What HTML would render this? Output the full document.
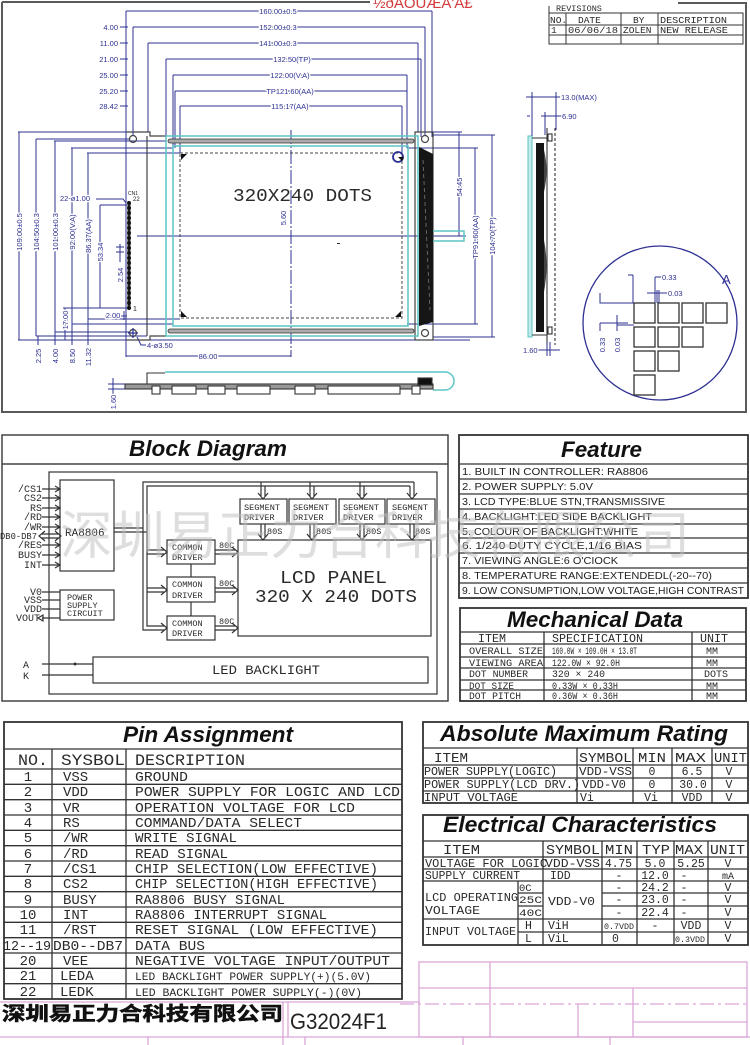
<!DOCTYPE html>
<html><head><meta charset="utf-8">
<style>
html,body{margin:0;padding:0;background:#fff;width:750px;height:1045px;overflow:hidden}
svg{display:block}
.s{font-family:"Liberation Sans","Noto Sans CJK SC",sans-serif}
.m{font-family:"Liberation Mono","DejaVu Sans Mono",monospace;fill:#2a2a2a}
.d{font-family:"Liberation Sans",sans-serif;font-size:7.5px;fill:#2d3092;stroke:#fff;stroke-width:2.5px;paint-order:stroke}
.t{font-family:"Liberation Sans",sans-serif;font-weight:bold;font-style:italic;font-size:22px;fill:#111}
</style></head><body>
<svg width="750" height="1045" viewBox="0 0 750 1045" xmlns="http://www.w3.org/2000/svg">

<!-- ===== TOP DRAWING FRAME ===== -->
<g stroke="#5a5a5a" stroke-width="2" fill="none">
<path d="M2,2H370M2,2V412H746V3H678"/>
</g>
<text class="s" x="373" y="8" font-size="15" fill="#d23c3c">½ðÀÓÚÆÄ'Ä£</text>

<!-- revisions -->
<g stroke="#333" stroke-width="1" fill="none">
<path d="M549,6V44H743V13H549M549,25H743M549,35H743M566,13V44M621,13V44M658,13V44"/>
</g>
<g class="m" font-size="9.5">
<text x="556" y="11" font-size="8.5">REVISIONS</text>
<text x="550" y="23">NO.</text><text x="578" y="23">DATE</text><text x="633" y="23">BY</text><text x="660" y="23" textLength="67" lengthAdjust="spacingAndGlyphs">DESCRIPTION</text>
<text x="551" y="33">1</text><text x="568" y="33" textLength="50" lengthAdjust="spacingAndGlyphs">06/06/18</text><text x="623" y="33">ZOLEN</text><text x="660" y="33" textLength="68" lengthAdjust="spacingAndGlyphs">NEW RELEASE</text>
</g>

<!-- top dimension lines -->
<g stroke="#2d3092" stroke-width="1" fill="none">
<path d="M126,11H432M133,27H425M148,43H418M166,59H421M173,75H407M175,91H407M180,106H402"/>
<path d="M126,11V357M432,11V137M133,27V136M425,27V136M148,43V132M418,43V132M166,59V137M421,59V137M173,75V148M407,75V148M175,91V148M180,106V153M402,106V153"/>
<path d="M120,27H128M120,43H128M120,59H128M120,75H128M120,91H128M120,106H128"/>
<!-- left verticals -->
<path d="M19,132V340M36,139V336M55,141V332M72,148V324M88,153V319M100,205V308M65,308V340"/>
<path d="M18,132H150M415,132H462M433,135H495M36,139H130M54,141H166M71,148H173M407,148H478M87,153H180M100,205H127"/>
<path d="M88,319H180M72,324H173M407,324H478M55,332H130M36,336H147M433,337H495M18,340H470M63,308H128"/>
<path d="M38,336V345M55,332V345M72,324V345M88,319V345"/>
<!-- center lines -->
<path d="M291,130V357" stroke-dasharray="14,2,2,2"/>
<path d="M137,236H466"/>
<path d="M126,356H291"/>
<!-- right dims -->
<path d="M459,132V236M475,148V324M492,135V337"/>
<!-- small dims near connector -->
<path d="M120,244V262M116,247H124M116,252H124M105,316H127M124,311V320M137,337L141,345H146"/>
<path d="M96,199H123L126,203"/>
</g>
<g class="d">
<text x="278" y="14" text-anchor="middle">160.00±0.5</text>
<text x="278" y="30" text-anchor="middle">152.00±0.3</text>
<text x="278" y="46" text-anchor="middle">141.00±0.3</text>
<text x="292" y="62" text-anchor="middle">132.50(TP)</text>
<text x="290" y="78" text-anchor="middle">122.00(V.A)</text>
<text x="290" y="94" text-anchor="middle">TP121.60(AA)</text>
<text x="290" y="109" text-anchor="middle">115.17(AA)</text>
<text x="118" y="30" text-anchor="end">4.00</text>
<text x="118" y="46" text-anchor="end">11.00</text>
<text x="118" y="62" text-anchor="end">21.00</text>
<text x="118" y="78" text-anchor="end">25.00</text>
<text x="118" y="94" text-anchor="end">25.20</text>
<text x="118" y="109" text-anchor="end">28.42</text>
<text transform="translate(22,232) rotate(-90)" text-anchor="middle">109.00±0.5</text>
<text transform="translate(39,232) rotate(-90)" text-anchor="middle">104.50±0.3</text>
<text transform="translate(58,232) rotate(-90)" text-anchor="middle">101.00±0.3</text>
<text transform="translate(75,232) rotate(-90)" text-anchor="middle">92.00(V.A)</text>
<text transform="translate(91,236) rotate(-90)" text-anchor="middle">86.37(AA)</text>
<text transform="translate(103,252) rotate(-90)" text-anchor="middle">53.34</text>
<text transform="translate(123,275) rotate(-90)" text-anchor="middle">2.54</text>
<text transform="translate(68,320) rotate(-90)" text-anchor="middle">17.00</text>
<text transform="translate(41,356) rotate(-90)" text-anchor="middle">2.25</text>
<text transform="translate(58,356) rotate(-90)" text-anchor="middle">4.00</text>
<text transform="translate(75,356) rotate(-90)" text-anchor="middle">8.50</text>
<text transform="translate(91,357) rotate(-90)" text-anchor="middle">11.32</text>
<text transform="translate(286,218) rotate(-90)" text-anchor="middle">5.60</text>
<text transform="translate(462,187) rotate(-90)" text-anchor="middle">54.45</text>
<text transform="translate(478,237) rotate(-90)" text-anchor="middle">TP91.60(AA)</text>
<text transform="translate(495,236) rotate(-90)" text-anchor="middle">104.70(TP)</text>
<text x="208" y="359" text-anchor="middle">86.00</text>
<text x="113" y="318" text-anchor="middle">2.00</text>
<text x="147" y="348">4-ø3.50</text>
<text x="90" y="201" text-anchor="end">22-ø1.00</text>
</g>
<text class="s" x="128" y="195" font-size="5" fill="#222">CN1</text>
<text class="s" x="133" y="201" font-size="6" fill="#222">22</text>
<text class="s" x="133" y="311" font-size="7" fill="#222">1</text>

<!-- module outline -->
<g stroke="#444" stroke-width="1.2" fill="none">
<path d="M126,132H150V136H166M147,136V336M126,340H150V336H166"/>
<path d="M415,132H433V340H415Z"/>
<circle cx="133" cy="139" r="3.5"/><circle cx="133" cy="333" r="3.5"/>
<circle cx="425" cy="139" r="3.5"/><circle cx="425" cy="333" r="3.5"/>
<path d="M128,333H138M133,328V338" stroke="#2d3092"/>
</g>
<!-- glass cyan -->
<g stroke="#5cc4c4" stroke-width="1.5" fill="none">
<rect x="166" y="136" width="252" height="200"/>
<rect x="173" y="146" width="235" height="180"/>
<path d="M420,226H430V231H464V241H430V246H420"/>
<path d="M420,148V324"/>
</g>
<g stroke="#333" stroke-width="0.8" fill="#aaa">
<rect x="168" y="139" width="246" height="4" rx="2"/>
<rect x="168" y="329" width="246" height="4" rx="2"/>
</g>
<rect x="180" y="153" width="222" height="165" fill="none" stroke="#444" stroke-width="1" stroke-dasharray="3,2"/>
<g fill="#111">
<path d="M181,154H187L181,160Z"/>
<path d="M181,317V311L187,317Z"/>
<path d="M401,317V311L395,317Z"/>
</g>
<circle cx="398" cy="157" r="5" fill="none" stroke="#2d3092" stroke-width="1.8"/>
<path d="M398,157L402,161L404,157Z" fill="#111"/>
<polygon points="419,147 433,154 433,322 419,326" fill="#161616"/>
<path d="M423,160L430,310" stroke="#777" stroke-width="0.8" stroke-dasharray="4,3"/>
<text class="m" x="233" y="201" font-size="18" textLength="139" lengthAdjust="spacingAndGlyphs">320X240 DOTS</text>
<rect x="337" y="243" width="3" height="1" fill="#333"/>
<!-- connector pins -->
<line x1="129" y1="203" x2="129" y2="308" stroke="#2a2a2a" stroke-width="3"/>
<g fill="#111">
<circle cx="129" cy="203" r="2"/><circle cx="129" cy="208" r="2"/><circle cx="129" cy="213" r="2"/><circle cx="129" cy="218" r="2"/><circle cx="129" cy="223" r="2"/><circle cx="129" cy="228" r="2"/><circle cx="129" cy="233" r="2"/><circle cx="129" cy="238" r="2"/><circle cx="129" cy="243" r="2"/><circle cx="129" cy="248" r="2"/><circle cx="129" cy="253" r="2"/><circle cx="129" cy="258" r="2"/><circle cx="129" cy="263" r="2"/><circle cx="129" cy="268" r="2"/><circle cx="129" cy="273" r="2"/><circle cx="129" cy="278" r="2"/><circle cx="129" cy="283" r="2"/><circle cx="129" cy="288" r="2"/><circle cx="129" cy="293" r="2"/><circle cx="129" cy="298" r="2"/><circle cx="129" cy="303" r="2"/><circle cx="129" cy="308" r="2"/>
</g>

<!-- bottom side view -->
<path d="M165,372H445A9,9 0 0 1 445,390H433" fill="none" stroke="#5cc4c4" stroke-width="1.5"/>
<g stroke="#333" stroke-width="1.1">
<path d="M147,385V373H165" fill="none"/>
<rect x="125" y="384" width="308" height="5" fill="#999"/>
<g fill="#fff">
<rect x="152" y="386" width="8" height="8"/><rect x="172" y="386" width="24" height="8"/><rect x="208" y="386" width="17" height="8"/><rect x="237" y="386" width="33" height="8"/><rect x="295" y="386" width="20" height="8"/><rect x="328" y="386" width="72" height="8"/><rect x="412" y="386" width="8" height="8"/>
</g>
<rect x="418" y="378" width="14" height="7" fill="#111"/>
</g>
<g stroke="#2d3092" stroke-width="1"><path d="M113,378V394M108,384H125M108,389H125"/></g>
<text class="d" transform="translate(116,402) rotate(-90)" text-anchor="middle">1.60</text>

<!-- right side view -->
<rect x="528" y="136" width="4" height="201" fill="#c5ecec" stroke="#5cc4c4" stroke-width="1"/>
<g stroke="#333" stroke-width="1.1" fill="none">
<path d="M532,138H547M532,335H547"/>
<path d="M547,128V345"/>
<rect x="548" y="134" width="4" height="7"/>
<rect x="548" y="327" width="4" height="7"/>
<path d="M555,128V345" stroke-dasharray="3,2"/>
</g>
<rect x="536" y="143" width="8" height="189" fill="#151515"/>
<path d="M544,150Q549,170 544,192ZM544,240Q549,265 544,292Z" fill="#444"/>
<g stroke="#2d3092" stroke-width="1" fill="none">
<path d="M532,92V136M556,92V130M545,112V135M526,97H560M541,116H562M527,97H530M527,116H530M537,350H560M547,342V356M550,342V356"/>
</g>
<text class="d" x="561" y="100">13.0(MAX)</text>
<text class="d" x="562" y="119">6.90</text>
<text class="d" x="523" y="353">1.60</text>

<!-- detail A -->
<circle cx="660" cy="323" r="77" fill="none" stroke="#2d3092" stroke-width="1.3"/>
<text class="s" x="722" y="284" font-size="13" fill="#2d3092">A</text>
<g stroke="#333" stroke-width="1.3" fill="none">
<rect x="634" y="303" width="21" height="20"/><rect x="658" y="303" width="21" height="20"/><rect x="682" y="303" width="21" height="20"/><rect x="706" y="303" width="21" height="20"/>
<rect x="634" y="327" width="21" height="20"/><rect x="658" y="327" width="21" height="20"/><rect x="682" y="327" width="21" height="20"/>
<rect x="634" y="351" width="21" height="20"/><rect x="658" y="351" width="21" height="20"/>
<rect x="634" y="375" width="21" height="20"/>
</g>
<g stroke="#2d3092" stroke-width="1" fill="none">
<path d="M633,275V303M628,275H633M655,277V303M655,277H662M657,290V303M659,290V303M647,293H668M600,293V303H634M600,323V331M600,323H628M617,315V331M617,325H634"/>
</g>
<text class="d" x="662" y="280">0.33</text>
<text class="d" x="668" y="296">0.03</text>
<text class="d" transform="translate(605,345) rotate(-90)" text-anchor="middle">0.33</text>
<text class="d" transform="translate(620,345) rotate(-90)" text-anchor="middle">0.03</text>

<!-- ===== BLOCK DIAGRAM ===== -->
<g stroke="#444" stroke-width="1.5" fill="none">
<rect x="2" y="435" width="446" height="266"/>
<path d="M2,464H448"/>
</g>
<text class="t" x="129" y="456" textLength="158" lengthAdjust="spacingAndGlyphs">Block Diagram</text>
<g stroke="#333" stroke-width="1.2" fill="none">
<rect x="49" y="472" width="388" height="222"/>
<rect x="60" y="480" width="54" height="91"/>
<rect x="60" y="590" width="54" height="30"/>
<rect x="167" y="540" width="48" height="24"/>
<rect x="167" y="577" width="48" height="25"/>
<rect x="167" y="616" width="48" height="24"/>
<rect x="240" y="499" width="47" height="25"/>
<rect x="289" y="499" width="47" height="25"/>
<rect x="339" y="499" width="46" height="25"/>
<rect x="387" y="499" width="48" height="25"/>
<rect x="238" y="540" width="193" height="96"/>
<rect x="93" y="657" width="335" height="26"/>
<!-- pin arrows -->
<path d="M42,489H60M55,486L60,489L55,492M42,498H60M55,495L60,498L55,501M42,508H60M55,505L60,508L55,511M42,517H60M55,514L60,517L55,520M42,527H60M55,524L60,527L55,530M42,545H60M55,542L60,545L55,548M42,555H60M55,552L60,555L55,558M42,565H60M55,562L60,565L55,568"/>
<path d="M42,534H58M42,538H58M45,531L39,536L45,541M55,531L61,536L55,541"/>
<path d="M42,592H60M42,600H60M42,609H60M42,618H60M38,618L43,615V621Z"/>
<!-- bus -->
<path d="M114,528H143V482H414M114,532H147V486H410M143,528V630H164M147,532V626H164"/>
<path d="M147,550H164M147,554H164M161,547L167,552L161,557M147,588H164M147,592H164M161,585L167,590L161,595M161,623L167,628L161,633"/>
<path d="M261,482V496M265,486V496M258,493L263,499L268,493M310,482V496M314,486V496M307,493L312,499L317,493M360,482V496M364,486V496M357,493L362,499L367,493M410,486V496M414,482V496M407,493L412,499L417,493"/>
<path d="M261,524V537M265,524V537M258,534L263,540L268,534M310,524V537M314,524V537M307,534L312,540L317,534M360,524V537M364,524V537M357,534L362,540L367,534M410,524V537M414,524V537M407,534L412,540L417,534"/>
<path d="M215,550H235M215,554H235M232,547L238,552L232,557M215,588H235M215,592H235M232,585L238,590L232,595M215,626H235M215,630H235M232,623L238,628L232,633"/>
<path d="M191,564V577M191,602V616"/>
<path d="M42,664H93M42,675H93"/>
</g>
<circle cx="75" cy="664" r="1.5" fill="#333"/>
<g class="m" font-size="10">
<text x="42" y="492" text-anchor="end">/CS1</text>
<text x="42" y="501" text-anchor="end">CS2</text>
<text x="42" y="511" text-anchor="end">RS</text>
<text x="42" y="520" text-anchor="end">/RD</text>
<text x="42" y="530" text-anchor="end">/WR</text>
<text x="0" y="539" textLength="37" lengthAdjust="spacingAndGlyphs" font-size="9.5">DB0-DB7</text>
<text x="42" y="548" text-anchor="end">/RES</text>
<text x="42" y="558" text-anchor="end">BUSY</text>
<text x="42" y="568" text-anchor="end">INT</text>
<text x="42" y="595" text-anchor="end">V0</text>
<text x="42" y="603" text-anchor="end">VSS</text>
<text x="42" y="612" text-anchor="end">VDD</text>
<text x="40" y="621" text-anchor="end">VOUT</text>
<text x="23" y="668">A</text>
<text x="23" y="679">K</text>
<text x="65" y="536" font-size="11">RA8806</text>
</g>
<g class="m" font-size="8.5">
<text x="67" y="600">POWER</text><text x="67" y="608">SUPPLY</text><text x="67" y="616">CIRCUIT</text>
<text x="172" y="550">COMMON</text><text x="172" y="560">DRIVER</text>
<text x="172" y="587">COMMON</text><text x="172" y="598">DRIVER</text>
<text x="172" y="626">COMMON</text><text x="172" y="636">DRIVER</text>
<text x="244" y="510" textLength="36" lengthAdjust="spacingAndGlyphs">SEGMENT</text><text x="244" y="520">DRIVER</text>
<text x="293" y="510" textLength="36" lengthAdjust="spacingAndGlyphs">SEGMENT</text><text x="293" y="520">DRIVER</text>
<text x="343" y="510" textLength="36" lengthAdjust="spacingAndGlyphs">SEGMENT</text><text x="343" y="520">DRIVER</text>
<text x="392" y="510" textLength="36" lengthAdjust="spacingAndGlyphs">SEGMENT</text><text x="392" y="520">DRIVER</text>
<text x="267" y="534">80S</text><text x="316" y="534">80S</text><text x="366" y="534">80S</text><text x="415" y="534">80S</text>
<text x="219" y="548">80C</text><text x="219" y="586">80C</text><text x="219" y="624">80C</text>
</g>
<text class="m" x="280" y="583" font-size="18" textLength="107" lengthAdjust="spacingAndGlyphs">LCD PANEL</text>
<text class="m" x="255" y="602" font-size="18" textLength="162" lengthAdjust="spacingAndGlyphs">320 X 240 DOTS</text>
<text class="m" x="212" y="674" font-size="13" textLength="108" lengthAdjust="spacingAndGlyphs">LED BACKLIGHT</text>

<!-- ===== FEATURE ===== -->
<g stroke="#333" stroke-width="1.3" fill="none">
<rect x="459" y="435" width="289" height="163" stroke-width="1.8"/>
<path d="M459,464H748M459,479H748M459,494H748M459,509H748M459,524H748M459,538H748M459,553H748M459,568H748M459,583H748"/>
</g>
<text class="t" x="561" y="457" textLength="81" lengthAdjust="spacingAndGlyphs">Feature</text>
<g class="s" font-size="10.5" fill="#222">
<text x="462" y="475" textLength="186" lengthAdjust="spacingAndGlyphs">1. BUILT IN CONTROLLER: RA8806</text>
<text x="462" y="490" textLength="131" lengthAdjust="spacingAndGlyphs">2. POWER SUPPLY: 5.0V</text>
<text x="462" y="505" textLength="203" lengthAdjust="spacingAndGlyphs">3. LCD TYPE:BLUE STN,TRANSMISSIVE</text>
<text x="462" y="520" textLength="190" lengthAdjust="spacingAndGlyphs">4. BACKLIGHT:LED SIDE BACKLIGHT</text>
<text x="462" y="535" textLength="176" lengthAdjust="spacingAndGlyphs">5. COLOUR OF BACKLIGHT:WHITE</text>
<text x="462" y="549" textLength="180" lengthAdjust="spacingAndGlyphs">6. 1/240 DUTY CYCLE,1/16 BIAS</text>
<text x="462" y="564" textLength="156" lengthAdjust="spacingAndGlyphs">7. VIEWING ANGLE:6 O'CIOCK</text>
<text x="462" y="579" textLength="250" lengthAdjust="spacingAndGlyphs">8. TEMPERATURE RANGE:EXTENDEDL(-20--70)</text>
<text x="462" y="594" textLength="282" lengthAdjust="spacingAndGlyphs">9. LOW CONSUMPTION,LOW VOLTAGE,HIGH CONTRAST</text>
</g>

<!-- ===== MECHANICAL ===== -->
<g stroke="#333" stroke-width="1.3" fill="none">
<rect x="460" y="608" width="286" height="93" stroke-width="1.8"/>
<path d="M460,632H746M460,644H746M460,657H746M460,668H746M460,680H746M460,690H746M544,632V701M692,632V701"/>
</g>
<text class="t" x="507" y="627" textLength="176" lengthAdjust="spacingAndGlyphs">Mechanical Data</text>
<g class="m" font-size="12">
<text x="478" y="642" textLength="28" lengthAdjust="spacingAndGlyphs">ITEM</text>
<text x="552" y="642" textLength="91" lengthAdjust="spacingAndGlyphs">SPECIFICATION</text>
<text x="700" y="642" textLength="28" lengthAdjust="spacingAndGlyphs">UNIT</text>
</g>
<g class="m" font-size="10">
<text x="469" y="654" textLength="74" lengthAdjust="spacingAndGlyphs">OVERALL SIZE</text>
<text x="469" y="666" textLength="74" lengthAdjust="spacingAndGlyphs">VIEWING AREA</text>
<text x="469" y="677" textLength="59" lengthAdjust="spacingAndGlyphs">DOT NUMBER</text>
<text x="469" y="689" textLength="45" lengthAdjust="spacingAndGlyphs">DOT SIZE</text>
<text x="469" y="699" textLength="52" lengthAdjust="spacingAndGlyphs">DOT PITCH</text>
<text x="552" y="654" textLength="85" lengthAdjust="spacingAndGlyphs">160.0W × 109.0H × 13.0T</text>
<text x="552" y="666" textLength="68" lengthAdjust="spacingAndGlyphs">122.0W × 92.0H</text>
<text x="552" y="677" textLength="53" lengthAdjust="spacingAndGlyphs">320 × 240</text>
<text x="552" y="689" textLength="66" lengthAdjust="spacingAndGlyphs">0.33W × 0.33H</text>
<text x="552" y="699" textLength="66" lengthAdjust="spacingAndGlyphs">0.36W × 0.36H</text>
<text x="706" y="654">MM</text><text x="706" y="666">MM</text><text x="704" y="677" textLength="24" lengthAdjust="spacingAndGlyphs">DOTS</text><text x="706" y="689">MM</text><text x="706" y="699">MM</text>
</g>

<!-- ===== PIN ASSIGNMENT ===== -->
<g stroke="#333" stroke-width="1.3" fill="none">
<rect x="4" y="722" width="398" height="277" stroke-width="1.8"/>
<path d="M4,749H402M4,769H402M4,784.3H402M4,799.7H402M4,815H402M4,830.3H402M4,845.7H402M4,861H402M4,876.3H402M4,891.7H402M4,907H402M4,922.3H402M4,937.7H402M4,953H402M4,968.3H402M4,983.7H402M52,749V999M126,749V999"/>
</g>
<text class="t" x="123" y="742" textLength="170" lengthAdjust="spacingAndGlyphs">Pin Assignment</text>
<g class="m" font-size="16">
<text x="18" y="765" textLength="30" lengthAdjust="spacingAndGlyphs">NO.</text>
<text x="61" y="765" textLength="64" lengthAdjust="spacingAndGlyphs">SYSBOL</text>
<text x="135" y="765" textLength="110" lengthAdjust="spacingAndGlyphs">DESCRIPTION</text>
</g>
<g class="m" font-size="14">
<g text-anchor="middle">
<text x="28" y="781">1</text><text x="28" y="796">2</text><text x="28" y="812">3</text><text x="28" y="827">4</text><text x="28" y="842">5</text><text x="28" y="858">6</text><text x="28" y="873">7</text><text x="28" y="888">8</text><text x="28" y="904">9</text><text x="28" y="919">10</text><text x="28" y="934">11</text><text x="28" y="965">20</text><text x="28" y="980">21</text><text x="28" y="996">22</text>
</g>
<text x="3" y="950" textLength="48" lengthAdjust="spacingAndGlyphs">12--19</text>
<text x="63" y="781">VSS</text><text x="63" y="796">VDD</text><text x="63" y="812">VR</text><text x="63" y="827">RS</text><text x="63" y="842">/WR</text><text x="63" y="858">/RD</text><text x="63" y="873">/CS1</text><text x="63" y="888">CS2</text><text x="63" y="904">BUSY</text><text x="63" y="919">INT</text><text x="63" y="934">/RST</text>
<text x="53" y="950" textLength="70" lengthAdjust="spacingAndGlyphs">DB0--DB7</text>
<text x="63" y="965">VEE</text><text x="60" y="980">LEDA</text><text x="60" y="996">LEDK</text>
<text x="135" y="781" textLength="53" lengthAdjust="spacingAndGlyphs">GROUND</text>
<text x="135" y="796" textLength="265" lengthAdjust="spacingAndGlyphs">POWER SUPPLY FOR LOGIC AND LCD</text>
<text x="135" y="812" textLength="220" lengthAdjust="spacingAndGlyphs">OPERATION VOLTAGE FOR LCD</text>
<text x="135" y="827" textLength="167" lengthAdjust="spacingAndGlyphs">COMMAND/DATA SELECT</text>
<text x="135" y="842" textLength="102" lengthAdjust="spacingAndGlyphs">WRITE SIGNAL</text>
<text x="135" y="858" textLength="93" lengthAdjust="spacingAndGlyphs">READ SIGNAL</text>
<text x="135" y="873" textLength="243" lengthAdjust="spacingAndGlyphs">CHIP SELECTION(LOW EFFECTIVE)</text>
<text x="135" y="888" textLength="243" lengthAdjust="spacingAndGlyphs">CHIP SELECTION(HIGH EFFECTIVE)</text>
<text x="135" y="904" textLength="150" lengthAdjust="spacingAndGlyphs">RA8806 BUSY SIGNAL</text>
<text x="135" y="919" textLength="192" lengthAdjust="spacingAndGlyphs">RA8806 INTERRUPT SIGNAL</text>
<text x="135" y="934" textLength="243" lengthAdjust="spacingAndGlyphs">RESET SIGNAL (LOW EFFECTIVE)</text>
<text x="135" y="950" textLength="70" lengthAdjust="spacingAndGlyphs">DATA BUS</text>
<text x="135" y="965" textLength="255" lengthAdjust="spacingAndGlyphs">NEGATIVE VOLTAGE INPUT/OUTPUT</text>
<text x="135" y="980" font-size="11" textLength="236" lengthAdjust="spacingAndGlyphs">LED BACKLIGHT POWER SUPPLY(+)(5.0V)</text>
<text x="135" y="996" font-size="11" textLength="227" lengthAdjust="spacingAndGlyphs">LED BACKLIGHT POWER SUPPLY(-)(0V)</text>
</g>

<!-- ===== ABSOLUTE MAXIMUM RATING ===== -->
<g stroke="#333" stroke-width="1.3" fill="none">
<rect x="423" y="722" width="325" height="81" stroke-width="1.8"/>
<path d="M423,748H748M423,765H748M423,778H748M423,791H748M577,748V803M633,748V803M672,748V803M712,748V803"/>
</g>
<text class="t" x="440" y="741" textLength="288" lengthAdjust="spacingAndGlyphs">Absolute  Maximum Rating</text>
<g class="m" font-size="14">
<text x="434" y="762" textLength="34" lengthAdjust="spacingAndGlyphs">ITEM</text>
<text x="579" y="762" textLength="53" lengthAdjust="spacingAndGlyphs">SYMBOL</text>
<text x="638" y="762" textLength="28" lengthAdjust="spacingAndGlyphs">MIN</text>
<text x="675" y="762" textLength="31" lengthAdjust="spacingAndGlyphs">MAX</text>
<text x="714" y="762" textLength="33" lengthAdjust="spacingAndGlyphs">UNIT</text>
</g>
<g class="m" font-size="11.5">
<text x="424" y="775" textLength="133" lengthAdjust="spacingAndGlyphs">POWER SUPPLY(LOGIC)</text>
<text x="424" y="788" textLength="156" lengthAdjust="spacingAndGlyphs">POWER SUPPLY(LCD DRV.)</text>
<text x="424" y="801" textLength="94" lengthAdjust="spacingAndGlyphs">INPUT VOLTAGE</text>
<text x="579" y="775" textLength="53" lengthAdjust="spacingAndGlyphs">VDD-VSS</text>
<text x="582" y="788" textLength="44" lengthAdjust="spacingAndGlyphs">VDD-V0</text>
<text x="580" y="801">Vi</text>
<g text-anchor="middle">
<text x="652" y="775">0</text><text x="652" y="788">0</text><text x="651" y="801">Vi</text>
<text x="692" y="775">6.5</text><text x="693" y="788">30.0</text><text x="692" y="801">VDD</text>
<text x="729" y="775">V</text><text x="729" y="788">V</text><text x="729" y="801">V</text>
</g>
</g>

<!-- ===== ELECTRICAL CHARACTERISTICS ===== -->
<g stroke="#333" stroke-width="1.3" fill="none">
<rect x="423" y="815" width="325" height="130" stroke-width="1.8"/>
<path d="M423,841H748M423,857H748M423,869H748M423,881H748M423,919H748M518,893H543M602,893H748M518,906H543M602,906H748M518,932H748"/>
<path d="M543,841V945M602,841V945M637,841V945M674,841V945M708,841V945M518,881V945"/>
</g>
<text class="t" x="443" y="832" textLength="274" lengthAdjust="spacingAndGlyphs">Electrical Characteristics</text>
<g class="m" font-size="14">
<text x="443" y="854" textLength="37" lengthAdjust="spacingAndGlyphs">ITEM</text>
<text x="546" y="854" textLength="54" lengthAdjust="spacingAndGlyphs">SYMBOL</text>
<text x="605" y="854" textLength="28" lengthAdjust="spacingAndGlyphs">MIN</text>
<text x="642" y="854" textLength="28" lengthAdjust="spacingAndGlyphs">TYP</text>
<text x="675" y="854" textLength="28" lengthAdjust="spacingAndGlyphs">MAX</text>
<text x="710" y="854" textLength="35" lengthAdjust="spacingAndGlyphs">UNIT</text>
</g>
<g class="m" font-size="11.5">
<text x="425" y="867" textLength="122" lengthAdjust="spacingAndGlyphs">VOLTAGE FOR LOGIC</text>
<text x="545" y="867" textLength="55" lengthAdjust="spacingAndGlyphs">VDD-VSS</text>
<text x="425" y="879" textLength="95" lengthAdjust="spacingAndGlyphs">SUPPLY CURRENT</text>
<text x="550" y="879">IDD</text>
<text x="425" y="901" textLength="93" lengthAdjust="spacingAndGlyphs">LCD OPERATING</text>
<text x="425" y="914" textLength="55" lengthAdjust="spacingAndGlyphs">VOLTAGE</text>
<text x="519" y="891" font-size="10.5">0C</text>
<text x="519" y="903" font-size="10.5" textLength="23" lengthAdjust="spacingAndGlyphs">25C</text>
<text x="519" y="916" font-size="10.5" textLength="23" lengthAdjust="spacingAndGlyphs">40C</text>
<text x="548" y="905" textLength="47" lengthAdjust="spacingAndGlyphs">VDD-V0</text>
<text x="425" y="935" textLength="91" lengthAdjust="spacingAndGlyphs">INPUT VOLTAGE</text>
<text x="525" y="929">H</text><text x="525" y="942">L</text>
<text x="548" y="929">ViH</text><text x="548" y="942">ViL</text>
<text x="604" y="929" font-size="8" textLength="30" lengthAdjust="spacingAndGlyphs">0.7VDD</text>
<text x="612" y="942">0</text>
<text x="605" y="867" textLength="27" lengthAdjust="spacingAndGlyphs">4.75</text>
<g text-anchor="middle">
<text x="619" y="879">-</text><text x="619" y="891">-</text><text x="619" y="903">-</text><text x="619" y="916">-</text>
<text x="655" y="867">5.0</text><text x="655" y="879">12.0</text><text x="655" y="891">24.2</text><text x="655" y="903">23.0</text><text x="655" y="916">22.4</text><text x="655" y="929">-</text>
<text x="691" y="867">5.25</text><text x="684" y="879">-</text><text x="684" y="891">-</text><text x="684" y="903">-</text><text x="684" y="916">-</text><text x="691" y="929">VDD</text>
<text x="728" y="867">V</text><text x="728" y="879" font-size="10">mA</text><text x="728" y="891">V</text><text x="728" y="903">V</text><text x="728" y="916">V</text><text x="728" y="929">V</text><text x="728" y="942">V</text>
</g>
<text x="675" y="942" font-size="8" textLength="30" lengthAdjust="spacingAndGlyphs">0.3VDD</text>
</g>

<!-- ===== BOTTOM TITLE BLOCK ===== -->
<g stroke="#dba6d6" stroke-width="1.3" fill="none">
<path d="M0,1002H419M283,1002V1045M288,1002V1037M0,1037H750M148,1037V1045M305,1037V1045"/>
<rect x="419" y="962" width="328" height="75"/>
<path d="M490,962V1037M419,988H747M578,1004V1037M633,988V1037M633,1022H747M463,1037V1045M610,1037V1045"/>
<path d="M400,1004H750" stroke-dasharray="14,4,3,4"/>
</g>
<text class="s" x="2" y="1020" font-size="19" font-weight="bold" fill="#111" stroke="#111" stroke-width="0.6" textLength="281" lengthAdjust="spacingAndGlyphs">深圳易正力合科技有限公司</text>
<text class="s" x="290" y="1029" font-size="22" fill="#222" textLength="97" lengthAdjust="spacingAndGlyphs">G32024F1</text>

<!-- watermark -->
<text class="s" x="60" y="554" font-size="52" fill="#bdbdbd" fill-opacity="0.5" textLength="630" lengthAdjust="spacingAndGlyphs">深圳易正力合科技有限公司</text>
</svg>
</body></html>
